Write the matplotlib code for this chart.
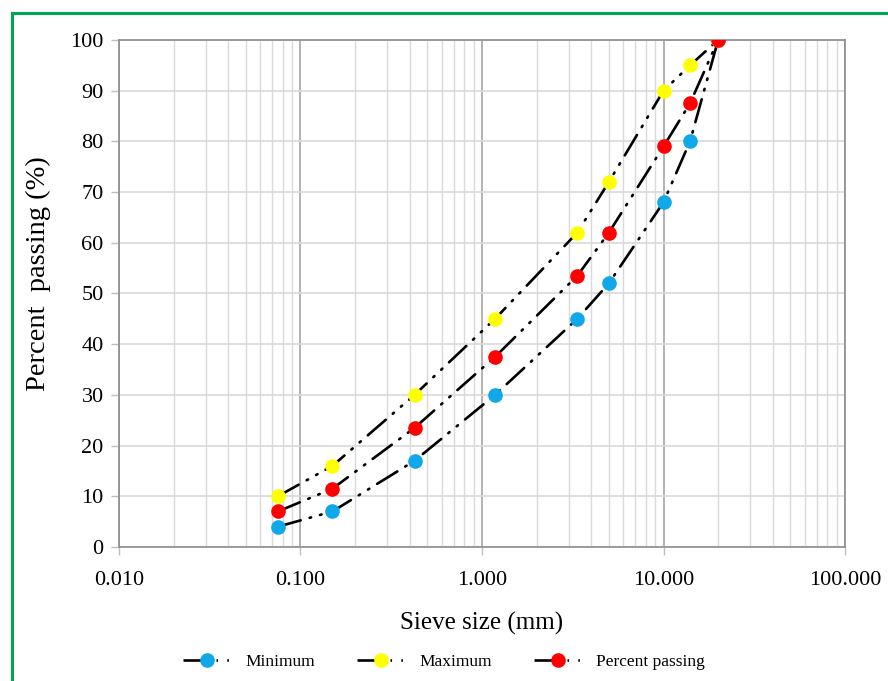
import matplotlib.pyplot as plt
from matplotlib.ticker import FixedLocator, FuncFormatter, LogLocator, NullFormatter
from matplotlib.lines import Line2D

plt.rcParams['font.family'] = ['Liberation Serif', 'DejaVu Serif']

# sieve sizes (mm) and gradation limits (%)
sieve = [0.075, 0.15, 0.425, 1.18, 3.35, 5, 10, 14, 20]
minimum = [4, 7, 17, 30, 45, 52, 68, 80, 100]
maximum = [10, 16, 30, 45, 62, 72, 90, 95, 100]
passing = [7, 11.5, 23.5, 37.5, 53.5, 62, 79, 87.5, 100]

fig = plt.figure(figsize=(8.88, 6.81), dpi=100)
ax = fig.add_axes([0.134, 0.1968, 0.8176, 0.7445])

dash = (0, (9, 3.5, 0.6, 3.5, 0.6, 3.5))
series = [(minimum, '#10a8e8', 'Minimum'),
          (maximum, '#ffff00', 'Maximum'),
          (passing, '#ff0000', 'Percent passing')]
for vals, col, lab in series:
    ax.plot(sieve, vals, color='black', lw=1.9, linestyle=dash,
            dash_capstyle='round', zorder=3)
    ax.plot(sieve, vals, 'o', color=col, ms=9.5, mec=col, zorder=4)

ax.set_xscale('log')
ax.set_xlim(0.01, 100)
ax.set_ylim(0, 100)
ax.set_yticks(range(0, 101, 10))
ax.xaxis.set_major_locator(FixedLocator([0.01, 0.1, 1, 10, 100]))
ax.xaxis.set_major_formatter(FuncFormatter(lambda v, p: '%.3f' % v))
ax.xaxis.set_minor_locator(LogLocator(base=10, subs=range(2, 10)))
ax.xaxis.set_minor_formatter(NullFormatter())

ax.grid(True, axis='y', color='#d9d9d9', lw=1.2)
ax.grid(True, axis='x', which='major', color='#a6a6a6', lw=1.2)
ax.grid(True, axis='x', which='minor', color='#d9d9d9', lw=1.0)
ax.set_axisbelow(True)

for s in ax.spines.values():
    s.set_color('#8c8c8c')
    s.set_linewidth(1.2)
ax.tick_params(axis='both', which='major', labelsize=16, color='#bfbfbf',
               length=6, width=1.0, pad=5)
ax.tick_params(axis='x', which='minor', length=0)
ax.tick_params(axis='x', pad=11)

ax.set_xlabel('Sieve size (mm)', fontsize=18, labelpad=16)
ax.set_ylabel('Percent  passing (%)', fontsize=20.5)
ax.yaxis.set_label_coords(-0.093, 0.54)

handles = [Line2D([], [], color='black', lw=1.9, linestyle=dash,
                  marker='o', mfc=c, mec=c, ms=9.5) for _, c, _ in series]
fig.legend(handles, [s[2] for s in series], loc='center',
           bbox_to_anchor=(0.5, 0.028), ncol=3, frameon=False,
           fontsize=12.5, columnspacing=2.4, handlelength=2.8)

# green frame around the figure
fig.add_artist(Line2D([0.0135, 0.0135], [0, 0.981], color='#00a651', lw=2.2,
                      transform=fig.transFigure))
fig.add_artist(Line2D([0.0135, 1], [0.981, 0.981], color='#00a651', lw=2.2,
                      transform=fig.transFigure))

fig.savefig('out.png', dpi=100)
